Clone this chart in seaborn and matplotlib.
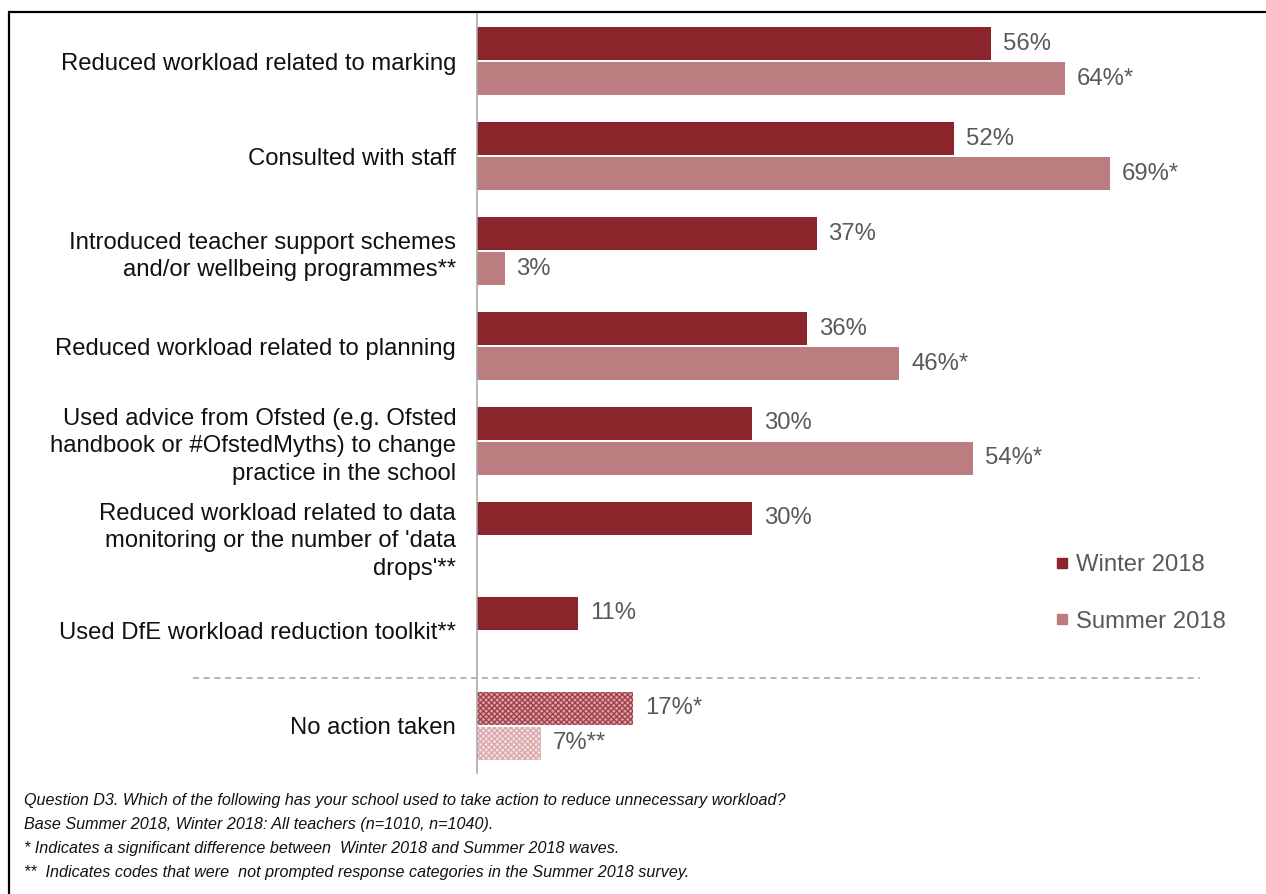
import numpy as np
import pandas as pd
import matplotlib
matplotlib.use("Agg")
import matplotlib.pyplot as plt
from matplotlib.lines import Line2D
from matplotlib.patches import Rectangle
import seaborn as sns

# --- data -------------------------------------------------------------
categories = [
    "Reduced workload related to marking",
    "Consulted with staff",
    "Introduced teacher support schemes\nand/or wellbeing programmes**",
    "Reduced workload related to planning",
    "Used advice from Ofsted (e.g. Ofsted\nhandbook or #OfstedMyths) to change\npractice in the school",
    "Reduced workload related to data\nmonitoring or the number of 'data\ndrops'**",
    "Used DfE workload reduction toolkit**",
    "No action taken",
]
waves = ["Winter 2018", "Summer 2018"]
winter_values = [56, 52, 37, 36, 30, 30, 11, 17]
summer_values = [64, 69, 3, 46, 54, np.nan, np.nan, 7]
winter_labels = ["56%", "52%", "37%", "36%", "30%", "30%", "11%", "17%*"]
summer_labels = ["64%*", "69%*", "3%", "46%*", "54%*", None, None, "7%**"]
footnotes = [
    "Question D3. Which of the following has your school used to take action to reduce unnecessary workload?",
    "Base Summer 2018, Winter 2018: All teachers (n=1010, n=1040).",
    "* Indicates a significant difference between  Winter 2018 and Summer 2018 waves.",
    "**  Indicates codes that were  not prompted response categories in the Summer 2018 survey.",
]

# --- styling ----------------------------------------------------------
sns.set_style("white")
plt.rcParams["font.family"] = ["Liberation Sans", "DejaVu Sans"]
plt.rcParams["hatch.linewidth"] = 0.9

colors = {"Winter 2018": "#8B252B", "Summer 2018": "#BB7D7F"}
hatch_styles = {"Winter 2018": ("#D6A2A6", "#A13C46"),
                "Summer 2018": ("#F3DFE0", "#D9A5A8")}
value_grey = "#595959"
axis_grey = "#A6A6A6"
fs = 17.2

df = pd.DataFrame({
    "category": categories * 2,
    "wave": [waves[0]] * len(categories) + [waves[1]] * len(categories),
    "value": winter_values + summer_values,
})

W, H = 1266, 894
fig = plt.figure(figsize=(W / 100, H / 100), dpi=100)
ax = fig.add_axes([477 / W, 1 - 773 / H, 1 - 477 / W, 759 / H])

sns.barplot(data=df, x="value", y="category", hue="wave", order=categories,
            hue_order=waves, palette=colors, saturation=1, orient="h",
            errorbar=None, width=0.74, gap=0.06, legend=False, ax=ax,
            linewidth=0)

ax.set_xlim(0, 789 / 9.18)
ax.set_ylim(7.5, -0.5)
ax.set_xlabel("")
ax.set_ylabel("")
ax.set_xticks([])

# value labels from the same data
for container, wave, labels, vals in zip(ax.containers, waves,
                                         [winter_labels, summer_labels],
                                         [winter_values, summer_values]):
    present = [lab for lab, v in zip(labels, vals) if not pd.isna(v)]
    ax.bar_label(container, labels=present, padding=8.5, fontsize=fs,
                 color=value_grey)
    # "No action taken" bars get a fine pattern
    for bar in container:
        yc = bar.get_y() + bar.get_height() / 2
        if yc > 6.5:
            face, hatch_col = hatch_styles[wave]
            bar.set_facecolor(face)
            bar.set_edgecolor(hatch_col)
            if hasattr(bar, "set_hatchcolor"):
                bar.set_hatchcolor(hatch_col)
            bar.set_hatch("xxxxxx")
            bar.set_linewidth(0)

ax.set_yticks(range(len(categories)))
ax.set_yticklabels(categories, fontsize=fs, color="#111111", linespacing=1.33)
ax.tick_params(axis="y", which="major", length=0, pad=15)
ax.set_yticks([7.5], minor=True)
ax.tick_params(axis="y", which="minor", length=5, width=1.1, color=axis_grey)

for side in ["top", "right", "bottom"]:
    ax.spines[side].set_visible(False)
ax.spines["left"].set_color(axis_grey)
ax.spines["left"].set_linewidth(1.1)

# separator before the last category
ax.axhline(6.5, xmin=(193 - 477) / 789, xmax=(1200 - 477) / 789,
           color="#A0A0A0", linestyle=(0, (4, 3)), linewidth=1.1, clip_on=False)

# legend
handles = [Line2D([], [], marker="s", linestyle="none", markersize=7,
                  markerfacecolor=colors[w], markeredgecolor=colors[w]) for w in waves]
leg = ax.legend(handles, waves, loc="center left",
                bbox_to_anchor=(1043 / W, 1 - 593.5 / H),
                bbox_transform=fig.transFigure, frameon=False, fontsize=fs,
                handlelength=0.6, handletextpad=0.3, labelspacing=1.45,
                borderpad=0)
for t in leg.get_texts():
    t.set_color(value_grey)

# footnotes
for i, line in enumerate(footnotes):
    fig.text(24 / W, 1 - (801 + i * 23.7) / H, line, fontsize=11.6,
             style="italic", color="#111111", va="center", ha="left")

# outer frame
fig.patches.append(Rectangle((9 / W, -0.2), 1.3, 1 - 12 / H + 0.2,
                             transform=fig.transFigure, fill=False,
                             edgecolor="black", linewidth=1.6))

fig.savefig("out.png", dpi=100)
